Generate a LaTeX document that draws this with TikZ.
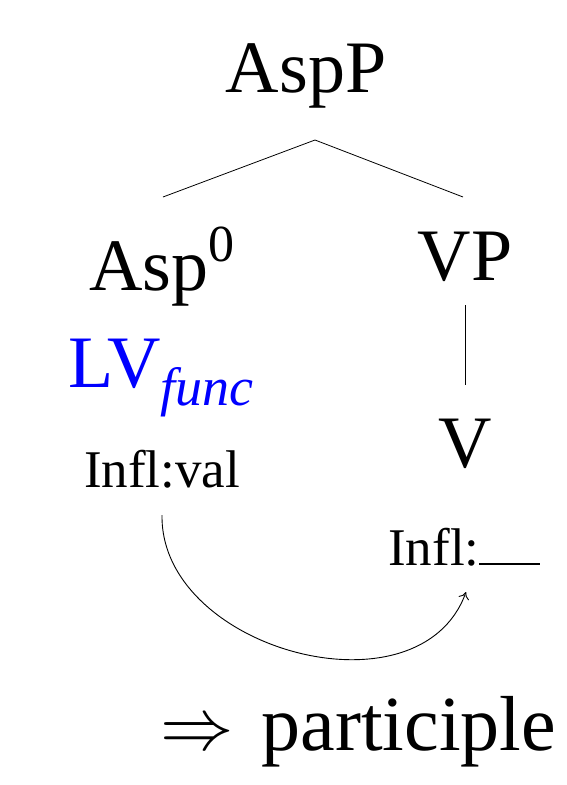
\documentclass[tikz,border=0pt]{standalone}
\usepackage{fontspec}
\usepackage{graphicx}
\setmainfont{Liberation Serif}
\usetikzlibrary{arrows.meta}
\begin{document}
\begin{tikzpicture}[x=1pt,y=-1pt,
  big/.style={inner sep=0pt,anchor=base,font=\fontsize{74}{74}\selectfont},
  mid/.style={inner sep=0pt,anchor=base,font=\fontsize{53}{53}\selectfont},
  branch/.style={line width=0.8pt}]
\useasboundingbox (0,0) rectangle (567,785);
\node[big] (aspp) at (306,92) {AspP};
\node[big] (asp0) at (162,290) {Asp\raisebox{0.38em}{\fontsize{52}{52}\selectfont 0}};
\node[big] (vp) at (465,280) {VP};
\node[big,text=blue] (lv) at (161,387) {LV\raisebox{-0.25em}{\fontsize{54}{54}\selectfont\itshape func}};
\node[mid] (ival) at (162,487) {Infl:val};
\node[big] (v) at (465,467) {V};
\node[mid,anchor=base west] (iblank) at (388,565) {Infl:\rule{61pt}{2pt}};
\node[inner sep=0pt,anchor=base west,font=\fontsize{78}{78}\selectfont] (part) at (160,750) {\raisebox{1pt}{\scalebox{2.95}{$\Rightarrow$}}\hspace{28pt}participle};
\coordinate (top) at (315,140);
\coordinate (lft) at (163,197);
\coordinate (rgt) at (463,197);
\coordinate (vpb) at (465,305);
\coordinate (vt) at (465,385);
\coordinate (as) at (162,515);
\coordinate (ae) at (466,592);
\draw[branch] (lft) -- (top) -- (rgt);
\draw[branch] (vpb) -- (vt);
\draw[line width=0.9pt,-{To[length=7pt,width=11pt]}] (as) .. controls (160,650) and (420,720) .. (ae);
\end{tikzpicture}
\end{document}
